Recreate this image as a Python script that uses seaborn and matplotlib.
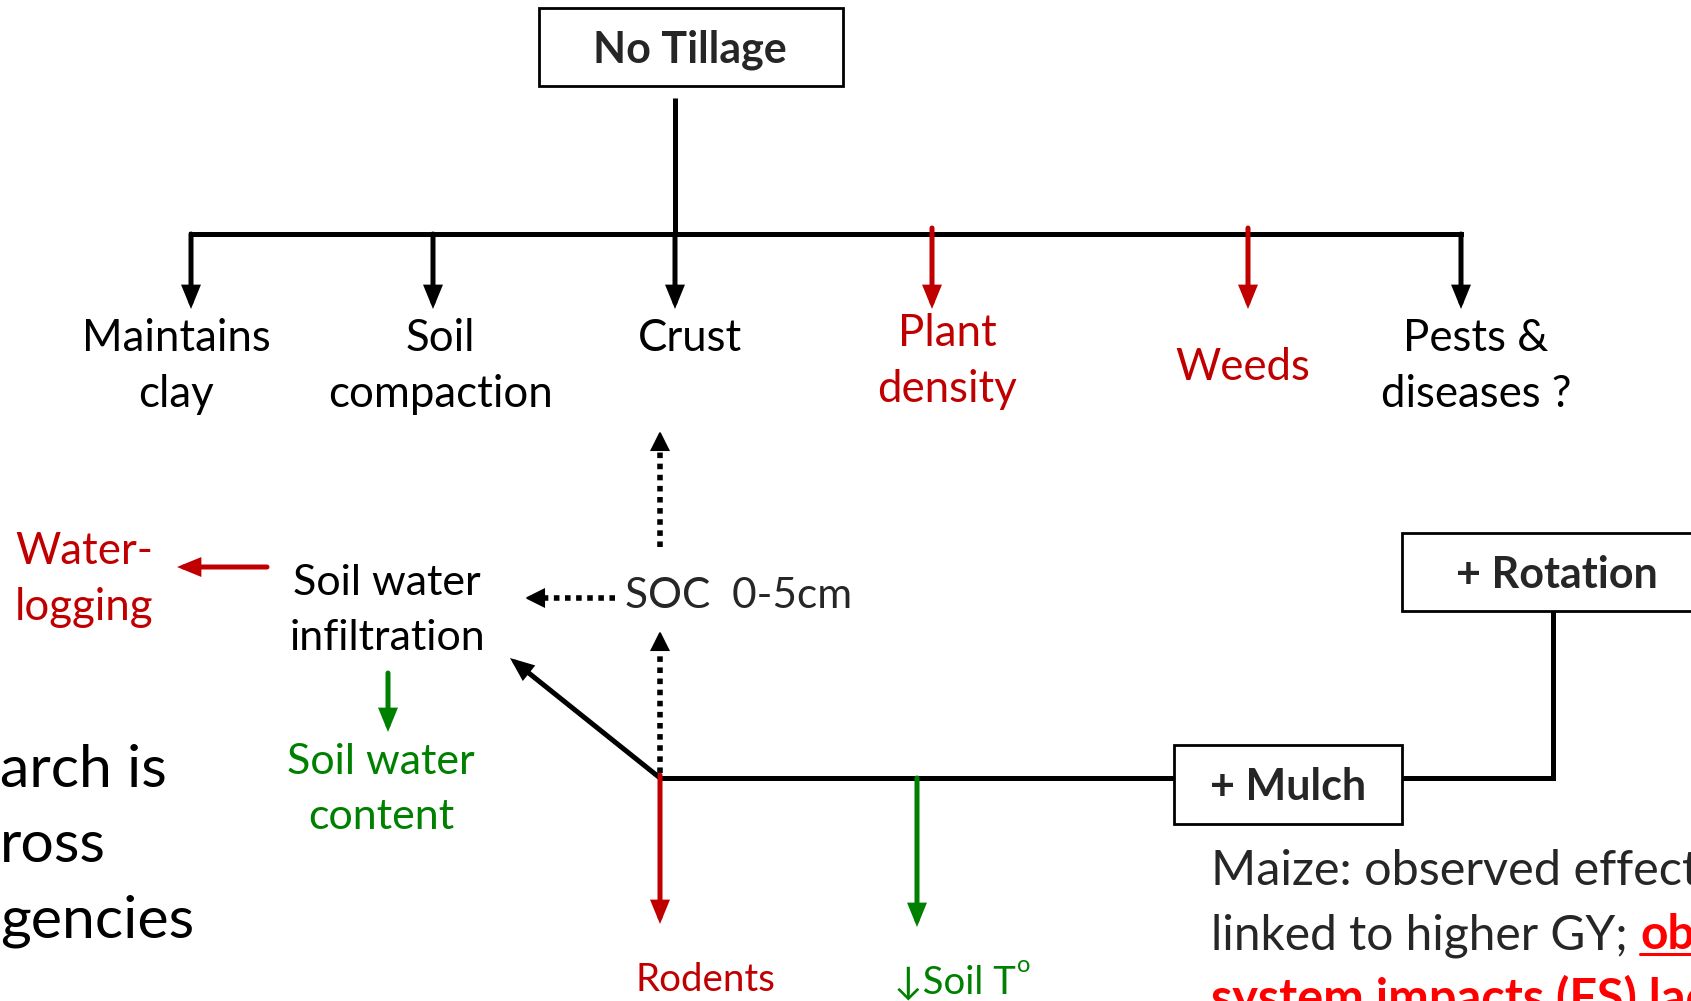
import matplotlib
matplotlib.use('Agg')
import matplotlib.pyplot as plt
import seaborn as sns

# --- DATA ---
title_label = "No Tillage"
top_labels = [["Maintains", "clay"], ["Soil", "compaction"], ["Crust"],
              ["Plant", "density"], ["Weeds"], ["Pests &", "diseases ?"]]
top_kinds = ["neg", "neg", "neg", "red", "red", "neg"]
mid_labels = {
    "waterlog": ["Water-", "logging"],
    "infil": ["Soil water", "infiltration"],
    "content": ["Soil water", "content"],
    "soc": ["SOC  0-5cm"],
}
bottom_labels = ["Rodents", "\u2193Soil T"]
box_labels = ["+ Mulch", "+ Rotation"]
left_lines = ["arch is", "ross", "gencies"]
note_line1 = "Maize: observed effects"
note_line2a = "linked to higher GY; "
note_line2b = "observed"
note_line3 = "system impacts (FS) lacking"

# --- STYLE ---
RED = "#C00000"
GREEN = "#008000"
BRIGHT = "#FF0000"
LW = 3.6
FS = 31

sns.set_theme(style="white")
plt.rcParams['font.family'] = ['Lato', 'DejaVu Sans']

fig = plt.figure(figsize=(16.91, 10.01), dpi=100)
ax = fig.add_axes([0, 0, 1, 1])
ax.set_xlim(0, 1691)
ax.set_ylim(1001, 0)
ax.axis('off')


def arrow(x0, y0, x1, y1, color='black', lw=LW, hl=1.1, hw=0.45):
    ax.annotate('', xy=(x1, y1), xytext=(x0, y0),
                arrowprops=dict(arrowstyle=f'-|>,head_length={hl},head_width={hw}',
                                color=color, lw=lw, shrinkA=0, shrinkB=0,
                                mutation_scale=10, joinstyle='miter'))


def dotted_arrow(x0, y0, x1, y1):
    # dotted shaft then a small solid head
    dx, dy = x1 - x0, y1 - y0
    n = (dx ** 2 + dy ** 2) ** 0.5
    ux, uy = dx / n, dy / n
    ax.plot([x0, x1 - ux * 12], [y0, y1 - uy * 12], color='black', lw=4,
            linestyle=(0, (1, 1)), solid_capstyle='butt', dash_capstyle='butt')
    arrow(x1 - ux * 16, y1 - uy * 16, x1, y1, lw=1.5, hl=1.2, hw=0.6)


def lines(x, y0, rows, step, **kw):
    for i, r in enumerate(rows):
        ax.text(x, y0 + i * step, r, va='baseline', **kw)


def box(x0, y0, x1, y1):
    ax.add_patch(plt.Rectangle((x0, y0), x1 - x0, y1 - y0, fill=True,
                               facecolor='white', edgecolor='black', lw=2, zorder=3))


# --- top tree ---
box(539, 8, 843, 86)
ax.text(690, 63, title_label, ha='center', va='baseline', fontsize=FS,
        fontweight='bold', zorder=4)
ax.plot([675, 675], [98, 234], color='black', lw=LW, solid_capstyle='butt')
ax.plot([191, 1461], [234, 234], color='black', lw=LW, solid_capstyle='projecting')

arrow_x = [191, 433, 675, 932, 1248, 1461]
label_x = [176, 440, 690, 947, 1243, 1476]
label_y = [351, 351, 351, 346, 380, 351]
for ax_x, lx, ly, rows, kind in zip(arrow_x, label_x, label_y, top_labels, top_kinds):
    c = RED if kind == "red" else 'black'
    y_start = 228 if kind == "red" else 234
    arrow(ax_x, y_start, ax_x, 309, color=c)
    lines(lx, ly, rows, 56, ha='center', color=c, fontsize=FS + 0.5)

# --- middle ---
lines(15, 564, mid_labels["waterlog"], 56, ha='left', color=RED, fontsize=FS + 0.5)
arrow(267, 567, 177, 567, color=RED)
lines(387, 595, mid_labels["infil"], 55, ha='center', color='black', fontsize=FS)
arrow(388, 673, 388, 732, color=GREEN)
lines(381, 774, mid_labels["content"], 55, ha='center', color=GREEN, fontsize=FS)
ax.text(625, 608, mid_labels["soc"][0], ha='left', va='baseline', fontsize=FS - 0.5)
dotted_arrow(615, 598, 525, 598)
dotted_arrow(660, 547, 660, 431)
dotted_arrow(660, 773, 660, 631)
arrow(660, 778, 510, 658)

# --- lower branch ---
ax.plot([660, 1174], [778, 778], color='black', lw=LW, solid_capstyle='butt')
arrow(660, 775, 660, 924, color=RED)
arrow(917, 778, 917, 927, color=GREEN)
ax.text(705, 991, bottom_labels[0], ha='center', va='baseline', color=RED, fontsize=27.7)
soil_t = ax.text(894, 994, bottom_labels[1], ha='left', va='baseline', color=GREEN,
                 fontsize=27.5)

box(1174, 745, 1402, 824)
ax.text(1288, 800, box_labels[0], ha='center', va='baseline', fontsize=FS,
        fontweight='bold', zorder=4)
ax.plot([1402, 1553, 1553], [778, 778, 611], color='black', lw=LW,
        solid_joinstyle='miter', solid_capstyle='butt')
box(1402, 533, 1760, 611)
ax.text(1456, 588, box_labels[1], ha='left', va='baseline', fontsize=FS,
        fontweight='bold', zorder=4)

# --- left text (cut off) ---
lines(0, 787, left_lines, 75, ha='left', color='black', fontsize=42.5)

# --- right note (cut off) ---
ax.text(1211, 885, note_line1, ha='left', va='baseline', fontsize=35)
t2 = ax.text(1211, 949, note_line2a, ha='left', va='baseline', fontsize=34.5)
ax.text(1211, 1013, note_line3, ha='left', va='baseline', fontsize=35,
        color=BRIGHT, fontweight='bold')

fig.canvas.draw()
inv = ax.transData.inverted()
bb = t2.get_window_extent()
x_end = inv.transform((bb.x1, bb.y0))[0]
t3 = ax.text(x_end, 949, note_line2b, ha='left', va='baseline', fontsize=34.5,
             color=BRIGHT, fontweight='bold')
fig.canvas.draw()
bb3 = t3.get_window_extent()
ax.plot([x_end, inv.transform((bb3.x1, bb3.y0))[0]], [954, 954], color=BRIGHT, lw=2.2)

bbs = soil_t.get_window_extent()
ax.text(inv.transform((bbs.x1, bbs.y0))[0] + 1, 972, "o", ha='left', va='baseline',
        color=GREEN, fontsize=17)

fig.savefig('out.png', dpi=100)
